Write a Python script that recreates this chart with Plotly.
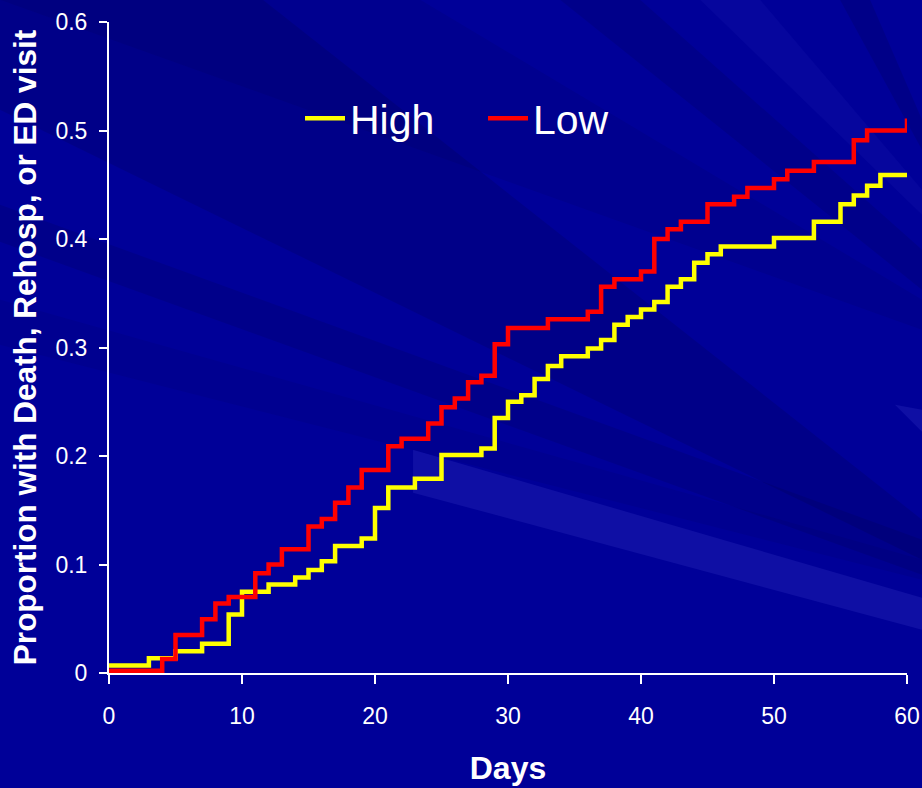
import plotly.graph_objects as go

# ---- data ----
high_days = [0, 3, 5, 7, 9, 10, 12, 14, 15, 16, 17, 19, 20, 21, 23, 25, 28, 29, 30, 31,
             32, 33, 34, 36, 37, 38, 39, 40, 41, 42, 43, 44, 45, 46, 50, 53, 55, 56, 57, 58, 60]
high_vals = [0.007, 0.0135, 0.020, 0.027, 0.054, 0.075, 0.0815, 0.088, 0.095, 0.103, 0.117,
             0.124, 0.152, 0.171, 0.179, 0.201, 0.207, 0.235, 0.250, 0.256, 0.271, 0.283,
             0.292, 0.299, 0.307, 0.321, 0.328, 0.335, 0.342, 0.356, 0.363, 0.378, 0.386,
             0.393, 0.401, 0.416, 0.432, 0.440, 0.449, 0.459, 0.459]

low_days = [0, 4, 5, 7, 8, 9, 11, 12, 13, 15, 16, 17, 18, 19, 21, 22, 24, 25, 26, 27, 28,
            29, 30, 33, 36, 37, 38, 40, 41, 42, 43, 45, 47, 48, 50, 51, 53, 56, 57, 60, 60]
low_vals = [0.002, 0.013, 0.035, 0.0495, 0.064, 0.070, 0.092, 0.100, 0.114, 0.135, 0.142,
            0.157, 0.171, 0.187, 0.209, 0.216, 0.230, 0.245, 0.253, 0.268, 0.274, 0.303,
            0.318, 0.326, 0.333, 0.356, 0.363, 0.370, 0.400, 0.409, 0.416, 0.432, 0.439,
            0.447, 0.455, 0.463, 0.471, 0.491, 0.500, 0.500, 0.511]

x_ticks = [0, 10, 20, 30, 40, 50, 60]
y_ticks = [0, 0.1, 0.2, 0.3, 0.4, 0.5, 0.6]
y_tick_labels = ["0", "0.1", "0.2", "0.3", "0.4", "0.5", "0.6"]

# ---- layout geometry helpers (background decoration) ----
W, H = 922, 788
L, R, T, B = 109, 907, 22.3, 673.3


def to_paper(pts):
    return [((x - L) / (R - L), (B - y) / (B - T)) for x, y in pts]


def poly_path(pts):
    p = to_paper(pts)
    return "M " + " L ".join(f"{a:.4f},{b:.4f}" for a, b in p) + " Z"


DARK = "rgba(0,0,40,{})"
LIGHT = "rgba(120,120,255,{})"
rays = [
    ([(0, -10), (250, -10), (922, 520), (922, 560), (0, 110)], DARK.format(0.14)),
    ([(0, 205), (922, 540), (922, 575), (0, 242)], DARK.format(0.12)),
    ([(0, 0), (420, 0), (922, 300), (922, 330)], DARK.format(0.08)),
    ([(413, 450), (922, 598), (922, 630), (413, 493)], LIGHT.format(0.12)),
    ([(560, 0), (640, 0), (922, 250), (922, 290)], DARK.format(0.12)),
    ([(700, 0), (760, 0), (922, 190), (922, 215)], LIGHT.format(0.05)),
    ([(840, 0), (870, 0), (922, 120), (922, 150)], DARK.format(0.14)),
    ([(895, 405), (922, 410), (922, 432)], LIGHT.format(0.12)),
    ([(0, 300), (922, 560), (922, 580), (0, 345)], DARK.format(0.07)),
]
shapes = [dict(type="path", path=poly_path(p), xref="paper", yref="paper",
               fillcolor=c, line=dict(width=0), layer="below") for p, c in rays]

fig = go.Figure()
fig.add_trace(go.Scatter(x=high_days, y=high_vals, mode="lines", name="High",
                         line=dict(color="#FFFF00", width=4.5, shape="hv")))
fig.add_trace(go.Scatter(x=low_days, y=low_vals, mode="lines", name="Low",
                         line=dict(color="#FF0000", width=4.5, shape="hv")))

sans = "Liberation Sans, Arial, sans-serif"

fig.update_layout(
    width=W, height=H,
    margin=dict(l=L, r=W - R, t=T, b=H - B, autoexpand=False),
    paper_bgcolor="#000098",
    plot_bgcolor="rgba(0,0,0,0)",
    shapes=shapes,
    showlegend=True,
    legend=dict(orientation="h", x=(300 - L) / (R - L), xanchor="left",
                y=(B - 119) / (B - T), yanchor="middle",
                font=dict(family=sans, size=41, color="white"),
                bgcolor="rgba(0,0,0,0)", entrywidth=128, entrywidthmode="pixels",
                itemwidth=40),
    xaxis=dict(range=[0, 60], tickvals=x_ticks, ticktext=[str(v) for v in x_ticks],
               automargin=False,
               showgrid=False, zeroline=False, showline=True, linecolor="white", linewidth=2,
               ticks="outside", ticklen=9, tickwidth=2, tickcolor="white",
               tickfont=dict(family=sans, size=23, color="white"),
               ticklabelstandoff=12,
               title=dict(text="<b>Days</b>", standoff=29,
                          font=dict(family=sans, size=32, color="white"))),
    yaxis=dict(range=[0, 0.6], tickvals=y_ticks, ticktext=y_tick_labels,
               automargin=False,
               showgrid=False, zeroline=False, showline=True, linecolor="white", linewidth=2,
               ticks="outside", ticklen=8, tickwidth=2, tickcolor="white",
               tickfont=dict(family=sans, size=23, color="white"),
               ticklabelstandoff=7,
               title=dict(text="<b>Proportion with Death, Rehosp, or ED visit</b>", standoff=9,
                          font=dict(family=sans, size=31.5, color="white"))),
)

fig.write_html("out.html")
